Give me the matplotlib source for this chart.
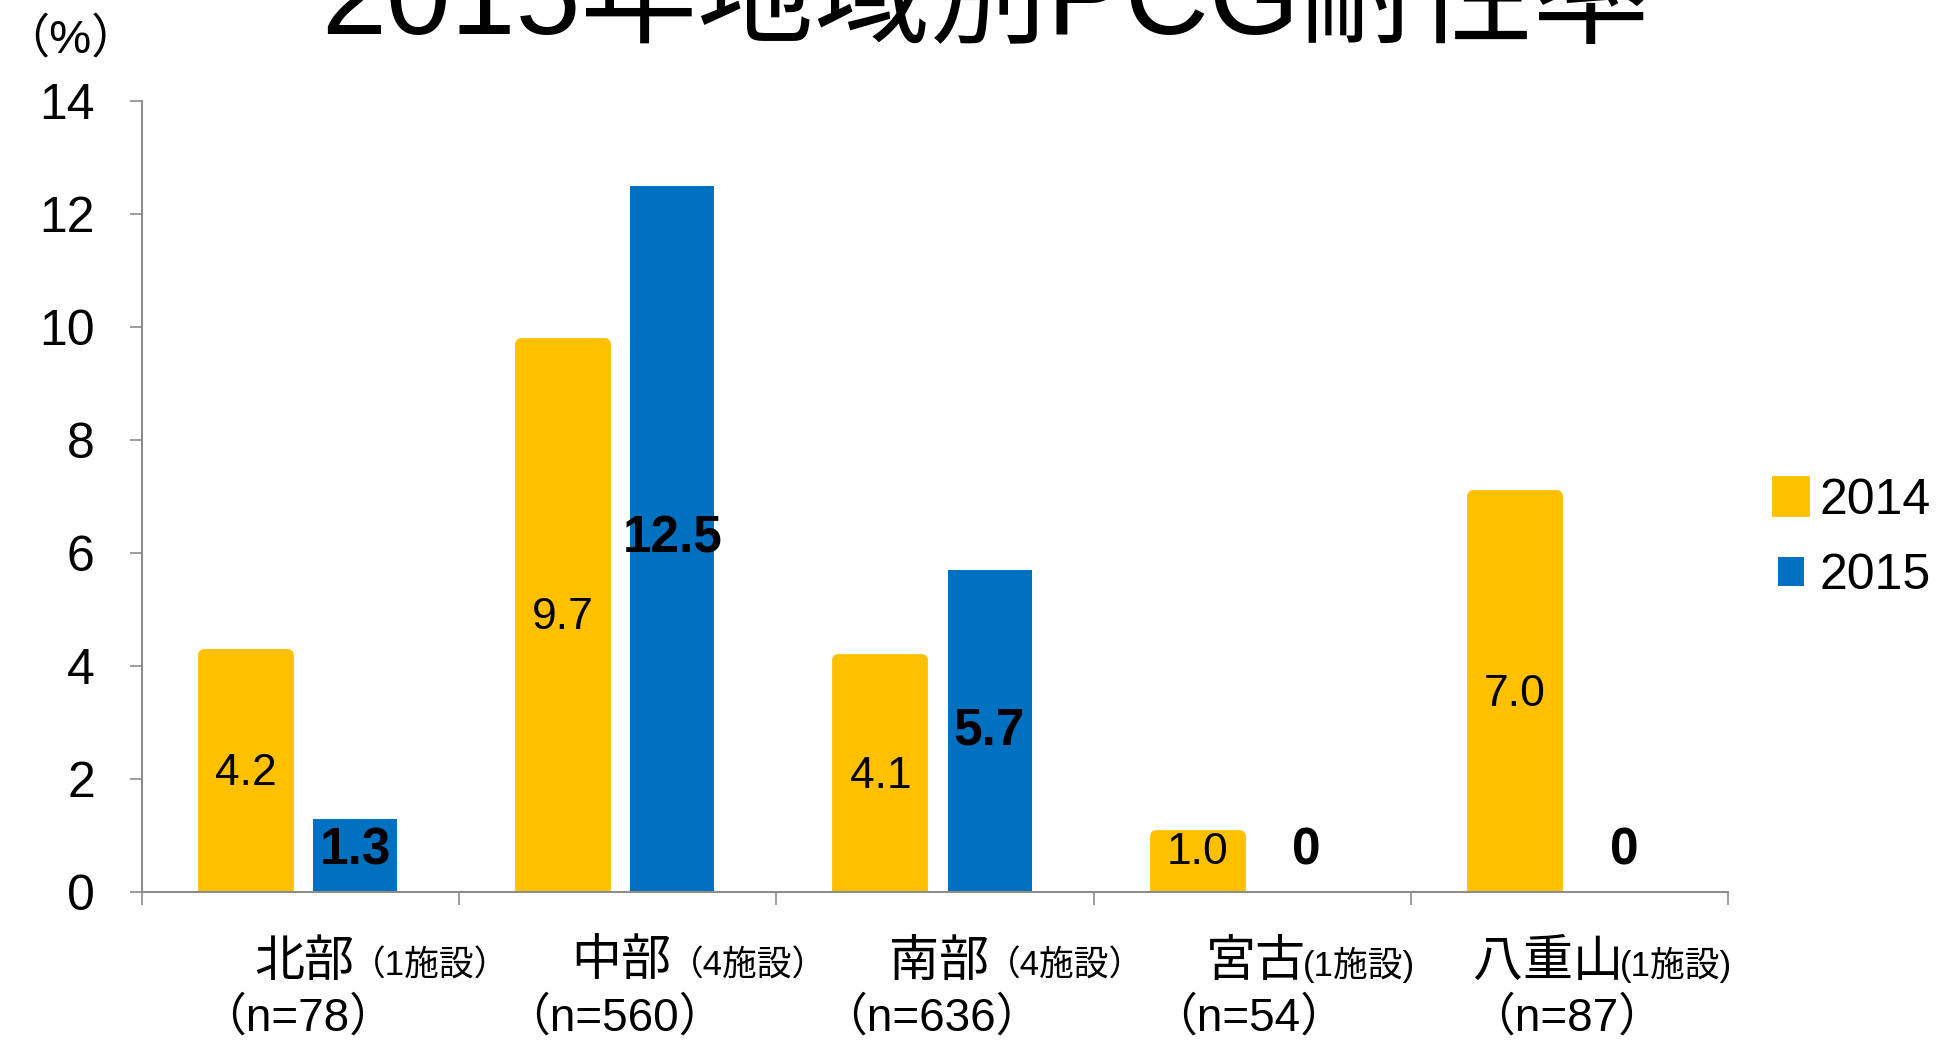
import matplotlib
matplotlib.use("Agg")
import matplotlib.pyplot as plt
import matplotlib.patches as mpatches
import matplotlib.transforms as mtransforms
import numpy as np

plt.rcParams['font.family'] = ['Liberation Sans', 'Noto Sans CJK JP', 'DejaVu Sans']

# data
regions = ['北部', '中部', '南部', '宮古', '八重山']
facilities = ['（1施設）', '（4施設）', '（4施設）', '(1施設)', '(1施設)']
n_labels = ['（n=78）', '（n=560）', '（n=636）', '（n=54）', '（n=87）']
rate_2014 = [4.2, 9.7, 4.1, 1.0, 7.0]
rate_2015 = [1.3, 12.5, 5.7, 0, 0]
years = ['2014', '2015']

YELLOW = '#FFC000'
BLUE = '#0070C0'
GREY = '#8C8C8C'

fig = plt.figure(figsize=(19.4, 10.4), dpi=100)
ax = fig.add_axes([0.0732, 0.1423, 0.8175, 0.7606])

x = np.arange(len(regions))
w = 0.265
off = 0.172
ax.bar(x - off, rate_2014, w, color=YELLOW, edgecolor=YELLOW,
       linewidth=8.5, joinstyle='round')
ax.bar(x + off, rate_2015, w, color=BLUE, linewidth=0)

# value labels
for xi, v in zip(x, rate_2014):
    ax.text(xi - off, max(v / 2, 0.7), f"{v:.1f}", ha='center', va='center',
            fontsize=32, color='black')
for xi, v in zip(x, rate_2015):
    s = f"{v:.1f}" if v else "0"
    ax.text(xi + off, max(v / 2, 0.72), s, ha='center', va='center',
            fontsize=37, fontweight='bold', color='black')

ax.set_xlim(-0.5, len(regions) - 0.5)
ax.set_ylim(0, 14)
ax.set_yticks(range(0, 15, 2))
ax.tick_params(axis='y', labelsize=36, length=9, width=1.2, color=GREY, pad=25)
ax.set_xticks([])
ax.set_xticks(np.arange(-0.5, len(regions)), minor=True)
ax.tick_params(axis='x', which='minor', length=9, width=1.2, color=GREY)
ax.tick_params(axis='x', which='major', length=0)
ax.xaxis.set_minor_formatter(plt.NullFormatter())

for side in ['top', 'right']:
    ax.spines[side].set_visible(False)
for side in ['left', 'bottom']:
    ax.spines[side].set_color(GREY)
    ax.spines[side].set_linewidth(1.5)

# category labels (two lines, mixed sizes)
trans = mtransforms.blended_transform_factory(ax.transData, fig.transFigure)
for xi, name, fac, n in zip(x, regions, facilities, n_labels):
    ax.text(xi + 0.17, 0.062, name, transform=trans, ha='right', va='baseline',
            fontsize=36, clip_on=False)
    ax.text(xi + 0.16, 0.062, fac, transform=trans, ha='left', va='baseline',
            fontsize=25, clip_on=False)
    ax.text(xi - 0.01, 0.009, n, transform=trans, ha='center', va='baseline',
            fontsize=33, clip_on=False)

# title (cut off at the top like the source)
fig.text(0.508, 0.967, '2015年地域別PCG耐性率', ha='center', va='baseline',
         fontsize=84)
fig.text(0.001, 0.962, '（%）', ha='left', va='center', fontsize=34)

handles = [
    mpatches.Patch(facecolor=YELLOW, edgecolor=YELLOW, linewidth=8.5,
                   joinstyle='round', label=years[0]),
    mpatches.Patch(facecolor=BLUE, linewidth=0, label=years[1]),
]
fig.legend(handles=handles, loc='center left', bbox_to_anchor=(0.9165, 0.482),
           frameon=False, fontsize=36, handlelength=0.52, handleheight=0.52,
           handletextpad=0.3, labelspacing=0.58, borderpad=0, borderaxespad=0)

fig.savefig('out.png', dpi=100)
